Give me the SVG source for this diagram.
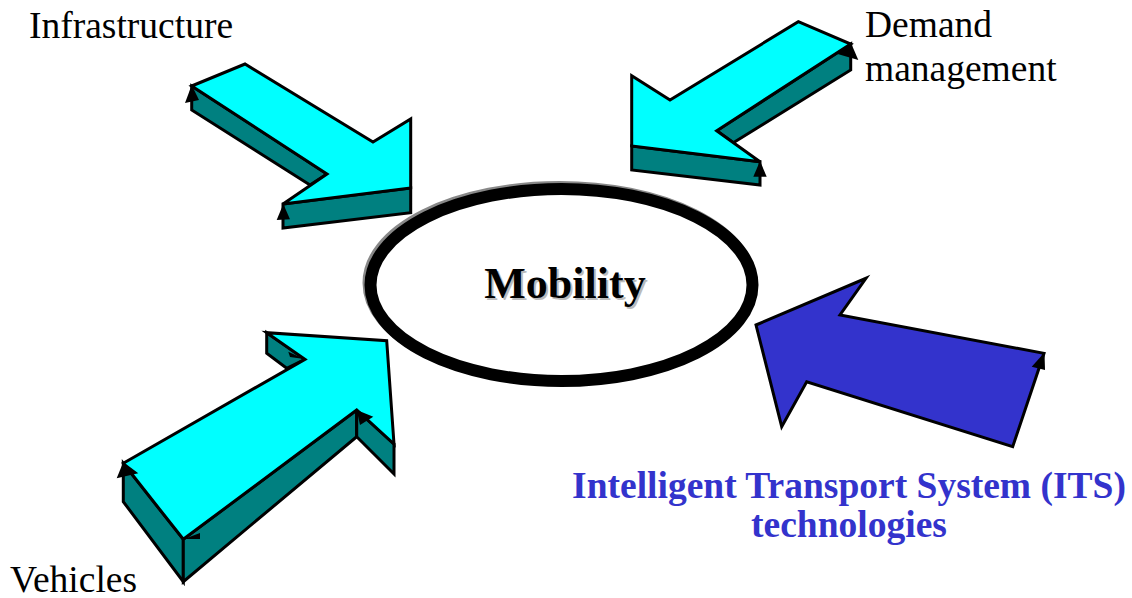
<svg xmlns="http://www.w3.org/2000/svg" width="1132" height="598" viewBox="0 0 1132 598">
<style>
.top{fill:#00FFFF;stroke:#000;stroke-width:3;stroke-linejoin:miter}
.side{fill:#008080;stroke:#000;stroke-width:3;stroke-linejoin:miter}
.its{fill:#3333CC;stroke:#000;stroke-width:3;stroke-linejoin:miter}
.mk{fill:#000}
.lbl{font-family:"Liberation Serif","Times New Roman",serif;font-size:37.5px;fill:#000}
.itsl{font-family:"Liberation Serif","Times New Roman",serif;font-size:37.5px;font-weight:bold;fill:#3333CC}
.mob{font-family:"Liberation Serif","Times New Roman",serif;font-size:44px;font-weight:bold}
</style>
<rect width="1132" height="598" fill="#fff"/>
<g id="mobility">
<ellipse cx="559.5" cy="283" rx="191" ry="96" fill="none" stroke="#888" stroke-width="12"/>
<ellipse cx="561.5" cy="285" rx="191" ry="96" fill="#fff" stroke="#000" stroke-width="12"/>
<text class="mob" x="567" y="300" text-anchor="middle" fill="#bbb">Mobility</text>
<text class="mob" x="565" y="298" text-anchor="middle" fill="#000">Mobility</text>
</g>
<g id="infrastructure">
<polygon class="side" points="191.7,86 327,174 310,185 191.7,110"/>
<polygon class="side" points="283,204 410.7,188 410.7,212.7 283,228"/>
<polygon class="top" points="191.7,86 245,64 373,142 410.7,119 410.7,188 283,204 327,174"/>
<polygon class="mk" points="191.7,85 185,103 199,100"/>
<polygon class="mk" points="283.3,204 276.7,220 290,219.3"/>
<text class="lbl" x="29" y="38">Infrastructure</text>
</g>
<g id="demand">
<polygon class="side" points="850.7,44 716.7,130.7 733.3,142.7 850.7,70"/>
<polygon class="side" points="631.7,146 760,161.7 760,185 631.7,170"/>
<polygon class="top" points="798.3,21.7 850.7,44 716.7,130.7 760,161.7 631.7,146 631.7,75.7 670,100"/>
<polygon class="mk" points="851,43 835,53.3 858.3,60"/>
<polygon class="mk" points="760,161 753.3,176.7 766.7,176.7"/>
<text class="lbl" x="865" y="37">Demand</text>
<text class="lbl" x="865" y="81">management</text>
</g>
<g id="vehicles">
<polygon class="side" points="266.7,332.7 266.7,353.3 286.7,368.3 305,359.3"/>
<polygon class="side" points="123.3,463.3 183.3,539.3 183.3,581.7 123.3,501.7"/>
<polygon class="side" points="183.3,539.3 356.7,410 356.7,436.7 183.3,581.7"/>
<polygon class="side" points="356.7,410 394,444 394,474 356.7,436.7"/>
<polygon class="top" points="123.3,463.3 305,359.3 266.7,332.7 386.7,340.7 394,444 356.7,410 183.3,539.3"/>
<polygon class="mk" points="123.3,462 116.7,478.3 138.3,473.3"/>
<polygon class="mk" points="184,539 200,533 200,539"/>
<polygon class="mk" points="356.7,410 360,425 373.3,416.7"/>
<polygon class="mk" points="304,359 288.3,351.7 290,357"/>
<text class="lbl" x="10" y="592">Vehicles</text>
</g>
<g id="its">
<polygon class="its" points="756,325 866,278.3 840,315 1044,353.3 1012.7,446.7 806.7,381.7 781.7,426.7"/>
<polygon class="mk" points="1044.5,352.5 1031.7,366.7 1045,370"/>
<text class="itsl" x="849" y="498" text-anchor="middle">Intelligent Transport System (ITS)</text>
<text class="itsl" x="849" y="537" text-anchor="middle">technologies</text>
</g>
</svg>
